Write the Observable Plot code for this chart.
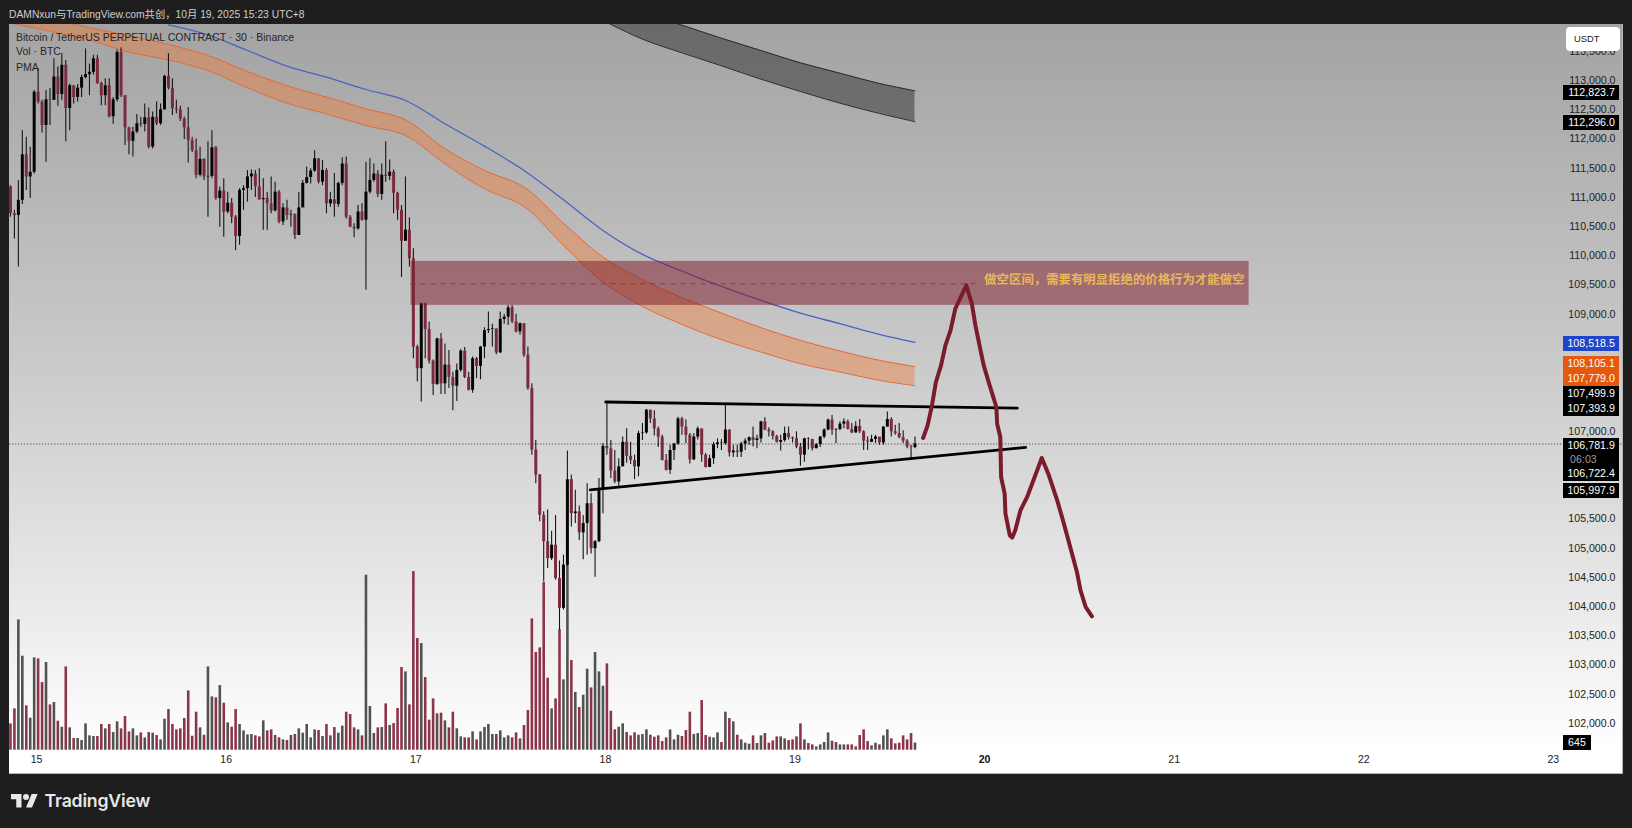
<!DOCTYPE html>
<html lang="zh">
<head>
<meta charset="utf-8">
<script src="https://cdn.jsdelivr.net/npm/d3@7"></script>
<script src="https://cdn.jsdelivr.net/npm/@observablehq/plot@0.6"></script>
<style>
html,body{margin:0;padding:0;background:#1e1e1e;width:1632px;height:828px;overflow:hidden;font-family:"Liberation Sans","Noto Sans CJK SC",sans-serif}
#pane{position:absolute;left:9px;top:24px;width:1614px;height:750px;background:linear-gradient(#a3a3a3 0%,#cacaca 45%,#e4e4e4 72%,#ffffff 97%);box-shadow:inset -1px -1px 0 #b5b5b5}
#stage svg{position:absolute;left:0;top:0;background:transparent;overflow:hidden}
.t{position:absolute;white-space:nowrap}
.tag{position:absolute;left:1563px;width:56px;text-align:right;box-sizing:border-box;padding-right:4px;font-size:10.6px;line-height:15px;color:#fff;letter-spacing:.05px}
</style>
</head>
<body>
<div id="pane"></div>
<div id="stage"></div>
<div class="t" style="left:9px;top:6px;font-size:10.3px;color:#cfcfcf">DAMNxun与TradingView.com共创，10月 19, 2025 15:23 UTC+8</div>
<div class="t" style="left:16px;top:31px;font-size:10.5px;color:#262626">Bitcoin / TetherUS PERPETUAL CONTRACT · 30 · Binance</div>
<div class="t" style="left:16px;top:45px;font-size:10.5px;color:#262626">Vol · BTC</div>
<div class="t" style="left:16px;top:61px;font-size:10.5px;color:#262626">PMA</div>
<div id="tags"></div>
<svg style="position:absolute;left:10.5px;top:790.5px" width="27" height="21" viewBox="0 0 36 28" fill="#e8e8e8"><path d="M14 22H7V11H0V4h14v18zM28 22h-8l7.5-18h8L28 22z"/><circle cx="20" cy="8" r="4"/></svg>
<div class="t" style="left:44.5px;top:789px;font:600 17.7px/24px Inter,'Liberation Sans',sans-serif;color:#e8e8e8;letter-spacing:-.2px">TradingView</div>
<script>
// Time axis: 30-minute bars, bar 0 = 14 Oct 20:30 (UTC+8, shown as UTC clock)
const firstBar = Date.UTC(2025, 9, 14, 20, 30);
const barTime = k => new Date(firstBar + k * 1800000);

const firstOpen = 111180;
const closes = [110720,110690,110950,111730,111350,111430,112800,112630,112230,112670,112660,113060,112760,113260,112520,112910,112710,112870,113050,113100,113140,113370,112950,112740,112910,112380,112670,113480,112740,112190,111960,112120,112260,112250,112360,111860,112370,112260,112500,113070,112870,112520,112500,112340,112190,111970,111800,111380,111650,111350,111360,111850,110980,111110,110750,110900,110660,110330,111120,111150,111350,111400,111180,110960,110980,110890,110770,111090,110580,110820,110690,110700,110350,110820,111240,111340,111450,111660,111260,111460,110890,110960,110880,111240,111570,110660,110490,110460,110750,110610,111090,111290,111400,111050,111380,111360,111430,111070,110780,110250,110440,109950,108440,108070,109180,108740,108200,107800,108580,107810,108130,107920,107770,108040,108370,107920,107700,108240,108110,108440,108720,108740,108750,108340,108910,108950,109110,108870,108700,108840,108300,107730,106680,106250,105560,105110,104820,105050,104480,103970,104710,106170,105590,105620,105260,105420,105760,104990,105110,106020,106740,106700,106320,106130,106390,106810,106570,106500,106390,106960,106970,107360,107210,107040,106900,106500,106330,106670,106780,107210,107070,106930,106510,106900,107040,106590,106380,106530,106770,106800,106790,107020,106630,106660,106640,106780,106830,106890,106840,106870,107160,107020,106990,106910,106810,106840,106960,106890,106870,106730,106590,106870,106860,106700,106770,106900,107020,107190,107020,107030,107120,107160,107030,106970,107080,106990,106830,106810,106860,106900,106800,107070,107200,106990,106960,106890,106830,106730,106720,106781.9];
const highs = [111200,110780,111290,112140,112030,111860,112830,113200,112660,112830,112860,113370,113230,113460,113340,112940,112910,112930,113090,113540,113280,113430,113430,112970,113030,113030,112710,113520,113560,112740,112200,112200,112420,112370,112600,112530,112460,112630,112600,113090,113460,113030,112660,112560,112370,112540,112030,112000,111860,111660,111950,112140,111870,111180,111320,111090,110980,110690,111150,111200,111460,111470,111460,111490,111320,111090,111350,111260,111120,110890,110950,110780,110720,111090,111290,111520,111490,111800,111660,111630,111490,111090,111410,111260,111680,111690,110690,110550,110860,110890,111600,111660,111570,111460,111570,111950,111640,111470,111090,110860,111350,110650,110120,108470,109190,109190,108870,108220,108590,108670,108490,108380,108010,108150,108400,108430,108010,108270,108260,108450,108770,109040,108830,108750,109040,109000,109150,109150,109000,108850,108770,108440,107810,106840,106260,105620,105650,105290,105560,104780,104880,106660,106250,105990,105720,105560,106100,105930,105130,106190,106790,107470,106840,106670,106530,106900,107040,106810,106590,107000,107130,107370,107360,107350,107070,106930,106600,106760,106790,107240,107240,107190,106960,106960,107070,107010,106620,106590,106810,106870,106860,107440,107020,106760,106760,106810,106870,106900,107070,106930,107170,107230,107060,107010,106930,106930,107070,107070,106900,106990,106790,106880,106890,106860,106790,106910,107040,107210,107270,107040,107160,107210,107190,107130,107160,107200,107010,106900,106930,106930,106840,107080,107330,107230,107100,107130,107010,106860,106760,106900];
const lows = [110660,110290,109810,110880,111120,110980,111400,112600,112100,111600,112230,112660,112560,112660,111950,112140,112600,112630,112710,113030,112740,113090,112930,112570,112570,112360,112250,112630,112710,111890,111730,111690,112090,112200,112120,111830,111830,112230,112230,112490,112840,112400,112430,112300,111990,111590,111770,111320,111350,111290,110660,111320,110950,110490,110320,110720,110550,110090,110180,110780,110920,111120,111000,110950,110440,110440,110720,110750,110550,110520,110610,110490,110280,110350,110830,111230,111230,111430,111230,111200,110720,110830,110660,110830,111200,110630,110480,110310,110440,110590,109410,111060,111260,111000,110950,111260,111290,110720,110610,109630,110250,109810,108240,107840,107500,108240,108150,107610,107780,107630,107630,107730,107350,107510,108010,107900,107690,107650,107900,107880,108240,108670,108440,108310,108330,108830,108810,108840,108680,108640,108260,107700,106590,106100,105450,104420,104650,104790,104450,103600,103940,104680,105360,105420,105130,104800,104880,104900,104500,105090,105590,106590,106190,106100,106020,106390,106450,106430,106170,106220,106840,106950,107130,106920,106720,106490,106320,106260,106500,106760,106930,106790,106440,106500,106850,106470,106370,106380,106430,106700,106670,106760,106560,106550,106550,106550,106670,106760,106730,106700,106800,107010,106900,106850,106800,106660,106810,106850,106800,106700,106400,106470,106680,106660,106700,106720,106870,107010,106930,106790,107010,107040,107020,106960,106970,106960,106670,106670,106810,106790,106760,106760,107070,106900,106930,106870,106790,106700,106500,106700];
const volumes = [2370,3720,11730,8460,3990,2880,8310,8220,6090,7890,4080,4290,2610,2070,7500,2010,1050,1050,870,2370,1290,1230,1230,2310,1920,2310,1590,2550,1920,3030,1650,1920,1290,1560,1110,1590,1530,1320,930,2790,3660,2310,1830,1920,2850,5340,1260,3420,2010,1350,7500,4800,4710,5820,4230,2460,2070,3660,2310,1740,1380,1410,1290,1200,2640,1740,1830,1320,1110,930,870,1320,1410,1920,1530,2310,1110,1830,1770,1230,2310,1290,2040,1530,2160,3420,3210,2010,1830,1290,15750,3930,1500,2010,2040,4170,2220,2400,3750,7440,7050,4080,16080,10050,9600,6540,2700,4620,3270,3330,2640,2010,3420,1920,1200,1110,1110,1650,930,1650,2040,2310,1410,1410,1740,1110,1290,1110,1560,1020,2220,3570,11820,8790,9210,15090,6480,3720,4620,10860,6330,16800,8070,5190,3840,4950,7290,5610,8790,7050,5760,7770,3510,1830,2070,2370,1590,1290,1560,1350,1410,1830,1350,1170,1290,780,1110,1830,930,1350,1230,1770,3420,1410,1500,4470,1320,1170,1110,1560,690,3420,2850,2550,1350,930,630,540,1290,600,1290,1500,630,840,1200,1200,1020,870,930,1200,2370,930,600,480,300,480,690,1560,810,690,480,480,480,480,300,1320,1830,780,390,630,480,1290,1830,1020,570,630,1290,930,1500,645];

// Moving-average ribbons sampled every ten bars
const ribbonBars = [0,10,20,30,40,50,60,70,80,90,100,110,120,130,140,150,160,170,180,190,200,210,220,229];
const orangeUpper = [114112,114055,113901,113770,113616,113428,113154,112909,112715,112516,112327,111832,111461,111176,110560,109979,109592,109284,109021,108771,108554,108372,108212,108105.1];
const orangeLower = [113980,113844,113695,113484,113353,113171,112875,112612,112430,112230,112060,111575,111147,110845,110179,109552,109135,108828,108565,108355,108155,108013,107870,107779];
const blueBars = [40,50,60,70,80,90,100,110,120,130,140,150,160,170,180,190,200,210,220,229];
const blueLine = [113952,113781,113513,113245,113057,112846,112658,112259,111877,111461,110959,110435,110025,109740,109477,109238,109021,108839,108657,108518.5];
const greyBars = [150,160,170,180,190,200,210,220,229];
const greyUpper = [114368,114157,113946,113724,113513,113302,113125,112949,112823.7];
const greyLower = [114026,113707,113473,113251,113023,112812,112612,112436,112296];

// Short zone
const zoneBars = [101.4, 313.6];
const zoneDashEnd = 245.7;
const zonePrices = {top: 109905, mid: 109523, bottom: 109153};
const zoneLabel = "做空区间，需要有明显拒绝的价格行为才能做空";

// Triangle trend lines
const resistance = {bars: [150.7, 254.9], prices: [107499.9, 107393.9]};
const support = {bars: [146.8, 257], prices: [105997.9, 106722.4]};
const lastPrice = 106781.9;

// Hand-drawn projection
const sketchBars = [231.05,232.2,233.3,234.3,235.6,236.7,238,239.2,242,243.4,244.3,245.6,246.4,247.9,249.6,249.8,250.6,250.8,251.7,251.9,253,253.6,254.4,255.7,257.4,261.1,262.9,265,266.7,270,270.9,272.2,273.8];
const sketchPrices = [106884,107100,107443,107842,108127,108469,108725,109095,109494,109181,108810,108383,108127,107785,107414,107129,106901,106217,105932,105590,105220,105180,105305,105647,105875,106542,106245,105818,105419,104593,104279,103994,103834];

// Axis ticks (those hidden behind the price tags are not listed)
const priceTicks = [102000,102500,103000,103500,104000,104500,105000,105500,107000,109000,109500,110000,110500,111000,111500,112000,112500,113000,113500];
const dayTicks = [15,16,17,18,19,21,22,23];
const boldDay = 20;

const RED = "#7d2a3d", BLACK = "#050505";
const candles = closes.map((c,i)=>({t:barTime(i),o:i?closes[i-1]:firstOpen,c,h:highs[i],l:lows[i],v:volumes[i]}));
const xDomain = [barTime(-0.17), barTime(408.3)];
const dayDate = d => new Date(Date.UTC(2025,9,d));
const F = "Liberation Sans, Noto Sans CJK SC, sans-serif";
const base = {width:1632,height:828,marginLeft:9.3,marginRight:9.3,marginTop:24,style:{background:"transparent",fontFamily:F}};

// volume pane (own y scale)
const volumePlot = Plot.plot({...base,marginBottom:78.3,
  x:{type:"time",domain:xDomain,axis:null},
  y:{domain:[0,65313],axis:null},
  marks:[
    Plot.ruleX(candles,{x:"t",y1:0,y2:"v",strokeWidth:2.6,stroke:d=>d.c<d.o?"#8c3549":"#525252"})
  ]});

// price pane
const ribbon = (u,l,bars)=>bars.map((b,i)=>({t:barTime(b),u:u[i],l:l[i]}));
const orange = ribbon(orangeUpper,orangeLower,ribbonBars);
const grey = ribbon(greyUpper,greyLower,greyBars);
const blue = blueBars.map((b,i)=>({t:barTime(b),p:blueLine[i]}));
const sketch = sketchBars.map((b,i)=>({t:barTime(b),p:sketchPrices[i]}));
const seg = s=>s.bars.map((b,i)=>({t:barTime(b),p:s.prices[i]}));
const SMOOTH = "catmull-rom";

const pricePlot = Plot.plot({...base,marginBottom:54,
  x:{type:"time",domain:xDomain,axis:null},
  y:{domain:[101127,113958],axis:null},
  marks:[
    Plot.axisY(priceTicks,{anchor:"right",tickSize:0,tickPadding:0,dx:-7.7,textAnchor:"end",tickFormat:d3.format(",.1f"),fontSize:10.6,fontFamily:F,fill:"#222",label:null}),
    Plot.axisX(dayTicks.map(dayDate),{anchor:"bottom",tickSize:0,tickPadding:0,dx:-1.5,dy:-19,tickFormat:d=>d.getUTCDate(),fontSize:10.6,fontFamily:F,fill:"#222",label:null}),
    Plot.axisX([dayDate(boldDay)],{anchor:"bottom",tickSize:0,tickPadding:0,dx:-1.5,dy:-19,tickFormat:d=>d.getUTCDate(),fontSize:10.6,fontWeight:"bold",fontFamily:F,fill:"#111",label:null}),
    Plot.ruleY([lastPrice],{stroke:"#333",strokeWidth:1,strokeDasharray:"1,2"}),
    Plot.areaY(grey,{x:"t",y1:"u",y2:"l",fill:"#3a3a3a",fillOpacity:.55,curve:SMOOTH,clip:"frame"}),
    Plot.lineY(grey,{x:"t",y:"u",stroke:"#2a2a2a",strokeWidth:1,curve:SMOOTH,clip:"frame"}),
    Plot.lineY(grey,{x:"t",y:"l",stroke:"#2a2a2a",strokeWidth:1,curve:SMOOTH,clip:"frame"}),
    Plot.areaY(orange,{x:"t",y1:"u",y2:"l",fill:"#ee7d3a",fillOpacity:.43,curve:SMOOTH,clip:"frame"}),
    Plot.lineY(orange,{x:"t",y:"u",stroke:"#e2693a",strokeWidth:1,curve:SMOOTH,clip:"frame"}),
    Plot.lineY(orange,{x:"t",y:"l",stroke:"#e2693a",strokeWidth:1,curve:SMOOTH,clip:"frame"}),
    Plot.lineY(blue,{x:"t",y:"p",stroke:"#4a63c4",strokeWidth:1.3,curve:SMOOTH,clip:"frame"}),
    Plot.ruleX(candles,{x:"t",y1:"l",y2:"h",stroke:"#161616",strokeWidth:1.1}),
    Plot.ruleX(candles,{x:"t",y1:"o",y2:"c",strokeWidth:3,stroke:d=>d.c<d.o?RED:BLACK}),
    Plot.rect([0],{x1:barTime(zoneBars[0]),x2:barTime(zoneBars[1]),y1:zonePrices.bottom,y2:zonePrices.top,fill:"#7f1d2b",fillOpacity:.52}),
    Plot.ruleY([zonePrices.mid],{x1:barTime(zoneBars[0]),x2:barTime(zoneDashEnd),stroke:"#7a2030",strokeWidth:1,strokeDasharray:"5,5",strokeOpacity:.6}),
    Plot.lineY(seg(resistance),{x:"t",y:"p",stroke:"#000",strokeWidth:2.8}),
    Plot.lineY(seg(support),{x:"t",y:"p",stroke:"#000",strokeWidth:2.8}),
    Plot.lineY(sketch,{x:"t",y:"p",stroke:"#7b1c2d",strokeWidth:4,strokeLinecap:"round",strokeLinejoin:"round"}),
    Plot.text([zoneLabel],{x:barTime(312.4),y:zonePrices.mid+60,text:d=>d,textAnchor:"end",fontSize:12.4,fontWeight:"bold",fontFamily:"Noto Sans CJK SC, sans-serif",fill:"#e9b85c"})
  ]});

const stage = document.getElementById("stage");
stage.append(volumePlot, pricePlot);

// Price-scale tags (stacked by the platform to avoid overlap)
const tagBoxes = [
  {top:84.5,h:15,bg:"#000",rows:["112,823.7"]},
  {top:114.5,h:15,bg:"#000",rows:["112,296.0"]},
  {top:336,h:15,bg:"#1f46c9",rows:["108,518.5"]},
  {top:356,h:30,bg:"#e6590c",rows:["108,105.1","107,779.0"]},
  {top:386,h:30,bg:"#000",rows:["107,499.9","107,393.9"]},
  {top:437.5,h:43,bg:"#000",rows:["106,781.9","06:03","106,722.4"]},
  {top:483,h:15,bg:"#000",rows:["105,997.9"]}
];
const tags = document.getElementById("tags");
for (const b of tagBoxes) {
  const d = document.createElement("div");
  d.className = "tag";
  d.style.cssText = `top:${b.top}px;height:${b.h}px;background:${b.bg};line-height:${b.h/b.rows.length}px`;
  d.innerHTML = b.rows.map(r=>r==="06:03"?`<div style="text-align:left;padding-left:7px;color:#9a9a9a">${r}</div>`:`<div>${r}</div>`).join("");
  tags.append(d);
}
const vt = document.createElement("div");
vt.className="tag"; vt.textContent="645";
vt.style.cssText="top:735px;height:15px;width:28px;text-align:center;padding:0;background:#000";
tags.append(vt);
const u = document.createElement("div");
u.textContent="USDT";
u.style.cssText="position:absolute;left:1566px;top:27px;width:54px;height:24px;background:#fff;border-radius:4px;font-size:9.4px;line-height:24px;color:#222;padding-left:8px;box-sizing:border-box";
tags.append(u);
</script>
</body>
</html>
